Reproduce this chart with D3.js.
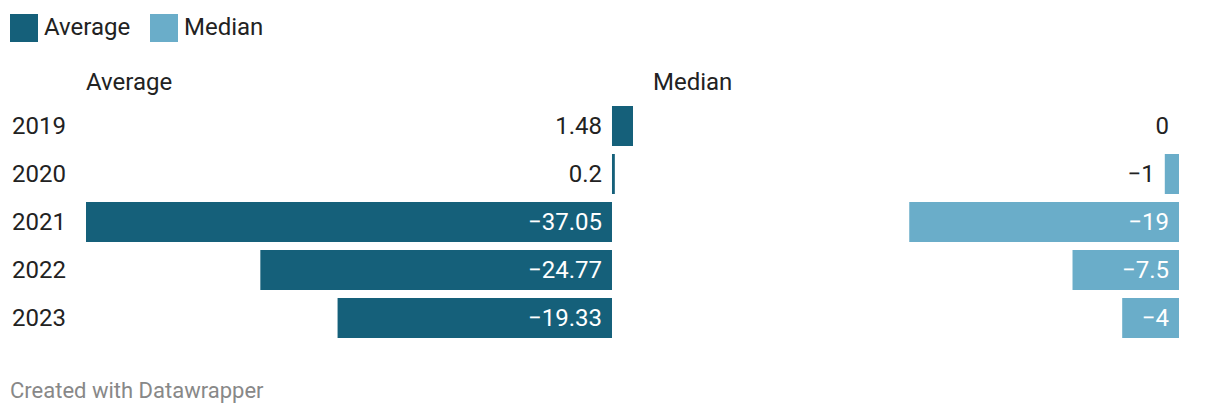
<!DOCTYPE html>
<html><head><meta charset="utf-8">
<script src="https://cdn.jsdelivr.net/npm/d3@7"></script>
<style>
body{margin:0;background:#fff;font-family:Roboto,"Noto Sans",sans-serif;}
</style></head>
<body><svg id="c" width="1220" height="416"></svg>
<script>
const years = ["2019","2020","2021","2022","2023"];
const averageValues = [1.48, 0.2, -37.05, -24.77, -19.33];
const medianValues = [0, -1, -19, -7.5, -4];
const seriesNames = ["Average","Median"];
const colors = ["#15607a","#6aadc9"];

const svg = d3.select("#c");
const fmt = v => (v < 0 ? "\u2212" + String(Math.abs(v)) : String(v));

// legend
const leg = svg.append("g");
[[10,44],[150,184]].forEach((p,i)=>{
  leg.append("rect").attr("x",p[0]).attr("y",14).attr("width",28).attr("height",28).attr("fill",colors[i]);
  leg.append("text").attr("x",p[1]).attr("y",35).attr("font-size",24).attr("fill","#222").text(seriesNames[i]);
});

const y = d3.scaleBand().domain(years).range([102,342]).paddingInner(8/48).paddingOuter(4/48);
const domain = [d3.min(averageValues.concat(medianValues)), d3.max(averageValues.concat(medianValues))];

// year labels
svg.append("g").selectAll("text").data(years).join("text")
  .attr("x",12).attr("y",d=>y(d)+y.bandwidth()/2+8).attr("font-size",24).attr("fill","#222").text(d=>d);

const panels = [{name:"Average",vals:averageValues,x0:86,x1:633,color:colors[0]},
                {name:"Median",vals:medianValues,x0:653,x1:1200,color:colors[1]}];
panels.forEach(p=>{
  const x = d3.scaleLinear().domain(domain).range([p.x0,p.x1]);
  const g = svg.append("g");
  g.append("text").attr("x",p.x0).attr("y",90).attr("font-size",24).attr("fill","#222").text(p.name);
  const zero = x(0);
  p.vals.forEach((v,i)=>{
    const yy = y(years[i]);
    const x0 = Math.min(x(v),zero), w = Math.abs(x(v)-zero);
    if (w>0) g.append("rect").attr("x",x0).attr("y",yy).attr("width",Math.max(w,2)).attr("height",y.bandwidth()).attr("fill",p.color);
    const inside = v<0 && w>50;
    g.append("text")
      .attr("x", inside ? zero-10 : (v>=0 ? zero-10 : x(v)-10))
      .attr("y", yy+y.bandwidth()/2+8)
      .attr("text-anchor","end").attr("font-size",24)
      .attr("fill", inside ? "#fff" : "#222").text(fmt(v));
  });
});

svg.append("text").attr("x",10).attr("y",398).attr("font-size",22).attr("fill","#888").text("Created with Datawrapper");
</script></body></html>
